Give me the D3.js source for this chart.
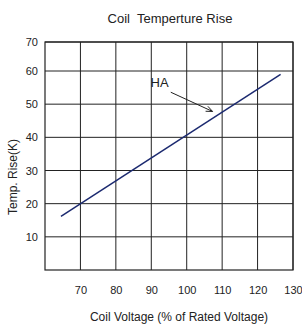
<!DOCTYPE html>
<html>
<head>
<meta charset="utf-8">
<script src="https://cdn.jsdelivr.net/npm/d3@7"></script>
<style>
  body { margin: 0; background: #fff; }
  text { font-family: "Liberation Sans", Arial, sans-serif; fill: #222; }
</style>
</head>
<body>
<svg id="chart"></svg>
<script>
const xTicks = [70, 80, 90, 100, 110, 120, 130];
const yTicks = [10, 20, 30, 40, 50, 60, 70];
const lineVoltage = [64.5, 126.5];
const lineRise = [16.2, 59];
const labelName = "HA";
const labelPos = [89.8, 55.1];
const arrowFrom = [95.5, 53.6];
const arrowTo = [107.3, 47.8];

const width = 302, height = 325;
const svg = d3.select("#chart").attr("width", width).attr("height", height);

const x = d3.scaleLinear().domain([60, 130]).range([45, 293]);
const y = d3.scaleLinear().domain([0, 60, 70]).range([270, 71, 42]);

// grid
svg.append("g")
  .selectAll("line")
  .data(xTicks)
  .join("line")
  .attr("x1", d => x(d)).attr("x2", d => x(d))
  .attr("y1", y(0)).attr("y2", y(70))
  .attr("stroke", "#222").attr("stroke-width", 1);

svg.append("g")
  .selectAll("line")
  .data(yTicks)
  .join("line")
  .attr("x1", x(60)).attr("x2", x(130))
  .attr("y1", d => y(d)).attr("y2", d => y(d))
  .attr("stroke", "#222").attr("stroke-width", 1);

svg.append("rect")
  .attr("x", x(60)).attr("y", y(70))
  .attr("width", x(130) - x(60)).attr("height", y(0) - y(70))
  .attr("fill", "none").attr("stroke", "#222").attr("stroke-width", 1.2);

// axes labels
const yAxis = d3.axisLeft(y).tickValues(yTicks).tickSize(0).tickPadding(7);
svg.append("g")
  .attr("transform", `translate(${x(60)},0)`)
  .call(yAxis)
  .call(g => g.select(".domain").remove())
  .selectAll("text")
  .style("font-size", "11px")
  .style("font-family", '"Liberation Sans", Arial, sans-serif')
  .attr("fill", "#222");

const xAxis = d3.axisBottom(x).tickValues(xTicks).tickSize(0).tickPadding(16);
svg.append("g")
  .attr("transform", `translate(0,${y(0)})`)
  .call(xAxis)
  .call(g => g.select(".domain").remove())
  .selectAll("text")
  .style("font-size", "11px")
  .style("font-family", '"Liberation Sans", Arial, sans-serif')
  .attr("fill", "#222");

// data line
svg.append("line")
  .attr("x1", x(lineVoltage[0])).attr("y1", y(lineRise[0]))
  .attr("x2", x(lineVoltage[1])).attr("y2", y(lineRise[1]))
  .attr("stroke", "#1c2a70").attr("stroke-width", 1.5);

// annotation
svg.append("text")
  .attr("x", x(labelPos[0])).attr("y", y(labelPos[1]))
  .style("font-size", "13px")
  .text(labelName);

const ax1 = x(arrowFrom[0]), ay1 = y(arrowFrom[1]);
const ax2 = x(arrowTo[0]), ay2 = y(arrowTo[1]);
const ang = Math.atan2(ay2 - ay1, ax2 - ax1);
svg.append("line")
  .attr("x1", ax1).attr("y1", ay1).attr("x2", ax2).attr("y2", ay2)
  .attr("stroke", "#222").attr("stroke-width", 1);
svg.append("path")
  .attr("d", `M${ax2 - 7 * Math.cos(ang - 0.4)},${ay2 - 7 * Math.sin(ang - 0.4)}L${ax2},${ay2}L${ax2 - 7 * Math.cos(ang + 0.4)},${ay2 - 7 * Math.sin(ang + 0.4)}`)
  .attr("fill", "none").attr("stroke", "#222").attr("stroke-width", 1);

// titles
svg.append("text")
  .attr("x", 170).attr("y", 23)
  .attr("text-anchor", "middle")
  .style("font-size", "13px")
  .style("white-space", "pre")
  .text("Coil  Temperture Rise");

svg.append("text")
  .attr("x", 179).attr("y", 321)
  .attr("text-anchor", "middle")
  .style("font-size", "12px")
  .text("Coil Voltage (% of Rated Voltage)");

svg.append("text")
  .attr("transform", "translate(17,177) rotate(-90)")
  .attr("text-anchor", "middle")
  .style("font-size", "12px")
  .text("Temp. Rise(K)");
</script>
</body>
</html>
